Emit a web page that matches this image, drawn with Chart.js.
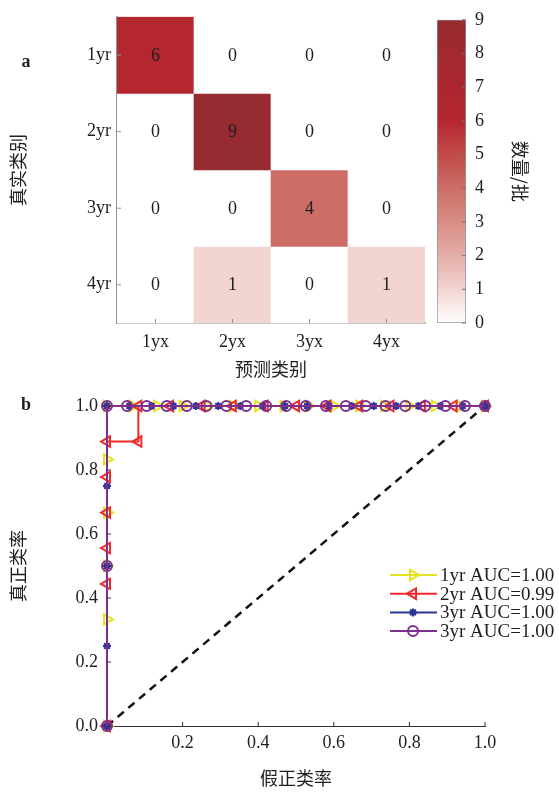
<!DOCTYPE html>
<html>
<head>
<meta charset="utf-8">
<script src="https://cdn.jsdelivr.net/npm/chart.js@4.4.1/dist/chart.umd.min.js"></script>
<style>
  html, body { margin: 0; padding: 0; background: #fff; width: 559px; height: 792px; overflow: hidden; }
  canvas { position: absolute; }
  #heat { left: 0; top: 0; }
  #cbar { left: 430px; top: 0; }
  #roc { left: 0; top: 385px; }
</style>
</head>
<body>
<canvas id="heat" width="430" height="385"></canvas>
<canvas id="cbar" width="129" height="385"></canvas>
<canvas id="roc" width="559" height="407"></canvas>
<script>
// ---- data: confusion matrix (a) ----
const predLabels = ["1yx", "2yx", "3yx", "4yx"];
const trueLabels = ["1yr", "2yr", "3yr", "4yr"];
const counts = [
  [6, 0, 0, 0],
  [0, 9, 0, 0],
  [0, 0, 4, 0],
  [0, 1, 0, 1],
];
const countTicks = [0, 1, 2, 3, 4, 5, 6, 7, 8, 9];

// ---- data: ROC curves (b) ----
const rocNames = ["1yr AUC=1.00", "2yr AUC=0.99", "3yr AUC=1.00", "3yr AUC=1.00"];
const fpr1 = [0, 0, 0, 0, 0, 0, 0.067, 0.133, 0.2, 0.267, 0.333, 0.4, 0.467, 0.533, 0.6, 0.667, 0.733, 0.8, 0.867, 0.933, 1];
const tpr1 = [0, 0.333, 0.5, 0.667, 0.833, 1, 1, 1, 1, 1, 1, 1, 1, 1, 1, 1, 1, 1, 1, 1, 1];
const fpr2 = [0, 0, 0, 0, 0, 0, 0.083, 0.083, 0.167, 0.25, 0.333, 0.417, 0.5, 0.583, 0.667, 0.75, 0.833, 0.917, 1];
const tpr2 = [0, 0.444, 0.556, 0.667, 0.778, 0.889, 0.889, 1, 1, 1, 1, 1, 1, 1, 1, 1, 1, 1, 1];
const fpr3 = [0, 0, 0, 0, 0, 0.059, 0.118, 0.176, 0.235, 0.294, 0.353, 0.412, 0.471, 0.529, 0.588, 0.647, 0.706, 0.765, 0.824, 0.882, 0.941, 1];
const tpr3 = [0, 0.25, 0.5, 0.75, 1, 1, 1, 1, 1, 1, 1, 1, 1, 1, 1, 1, 1, 1, 1, 1, 1, 1];
const fpr4 = [0, 0, 0, 0.053, 0.105, 0.158, 0.211, 0.263, 0.316, 0.368, 0.421, 0.474, 0.526, 0.579, 0.632, 0.684, 0.737, 0.789, 0.842, 0.895, 0.947, 1];
const tpr4 = [0, 0.5, 1, 1, 1, 1, 1, 1, 1, 1, 1, 1, 1, 1, 1, 1, 1, 1, 1, 1, 1, 1];
const chanceX = [0, 1];
const chanceY = [0, 1];
const fprTicks = [0.2, 0.4, 0.6, 0.8, 1.0];
const tprTicks = [0, 0.2, 0.4, 0.6, 0.8, 1.0];

// ---- styles ----
const SERIF = "'Liberation Serif', 'DejaVu Serif', serif";
const CJK = "'Noto Sans CJK SC', 'Noto Sans', sans-serif";
const TEXT = "#1e1e1e";
const AXIS_GRAY = "#8d949b";
// white -> dark red colour map, sampled off the colour bar at 0..9
const cmap = ["#ffffff", "#f2d4d1", "#e5ada8", "#d98d86", "#cc6e66", "#c14b49", "#b4272f", "#aa2630", "#a1292f", "#962b31"];

function hexToRgb(h) {
  return [1, 3, 5].map((i) => parseInt(h.slice(i, i + 2), 16));
}
function colorFor(v) {
  const max = cmap.length - 1;
  const t = Math.max(0, Math.min(max, v));
  const i = Math.min(Math.floor(t), max - 1);
  const f = t - i;
  const a = hexToRgb(cmap[i]), b = hexToRgb(cmap[i + 1]);
  const c = a.map((x, k) => Math.round(x + (b[k] - x) * f));
  return `rgb(${c[0]}, ${c[1]}, ${c[2]})`;
}

// small inward tick marks, the way the reference draws them
function inwardTicks(ctx, scale, len, color) {
  ctx.save();
  ctx.strokeStyle = color;
  ctx.lineWidth = 1;
  ctx.beginPath();
  scale.ticks.forEach((t, i) => {
    const p = scale.isHorizontal() ? scale.getPixelForTick(i) : scale.getPixelForValue(t.value);
    if (scale.isHorizontal()) {
      ctx.moveTo(p, scale.top);
      ctx.lineTo(p, scale.top - len);
    } else if (scale.position === "left") {
      ctx.moveTo(scale.right, p);
      ctx.lineTo(scale.right + len, p);
    } else {
      ctx.moveTo(scale.left, p);
      ctx.lineTo(scale.left - len, p);
    }
  });
  ctx.stroke();
  ctx.restore();
}

function panelLetter(ctx, letter, x, y) {
  ctx.save();
  ctx.font = `bold 18px ${SERIF}`;
  ctx.fillStyle = TEXT;
  ctx.textAlign = "center";
  ctx.textBaseline = "middle";
  ctx.fillText(letter, x, y);
  ctx.restore();
}

// ---- (a) confusion matrix ----
const cellTextPlugin = {
  id: "cellText",
  afterDatasetsDraw(chart) {
    const { ctx } = chart;
    ctx.save();
    ctx.font = `18px ${SERIF}`;
    ctx.fillStyle = TEXT;
    ctx.textAlign = "center";
    ctx.textBaseline = "middle";
    chart.data.datasets.forEach((ds, r) => {
      chart.getDatasetMeta(r).data.forEach((bar, c) => {
        ctx.fillText(String(counts[r][c]), bar.x, (bar.y + bar.base) / 2 + 1);
      });
    });
    ctx.restore();
    inwardTicks(ctx, chart.scales.x, 4, AXIS_GRAY);
    inwardTicks(ctx, chart.scales.y, 4, AXIS_GRAY);
    panelLetter(ctx, "a", 26, 62);
  },
};

new Chart(document.getElementById("heat"), {
  type: "bar",
  data: {
    labels: predLabels,
    datasets: trueLabels.map((name, r) => ({
      label: name,
      data: predLabels.map(() => 1),
      backgroundColor: counts[r].map(colorFor),
      borderWidth: 0,
      barPercentage: 1,
      categoryPercentage: 1,
    })),
  },
  options: {
    responsive: false,
    animation: false,
    events: [],
    layout: { padding: { top: 15, right: 5, left: 0, bottom: 0 } },
    plugins: { legend: { display: false }, tooltip: { enabled: false } },
    scales: {
      x: {
        stacked: true,
        grid: { display: false, drawTicks: false },
        border: { display: true, color: AXIS_GRAY, width: 1.5 },
        ticks: { color: TEXT, font: { family: SERIF, size: 18 }, padding: 8 },
        title: { display: true, text: "预测类别", color: TEXT, font: { family: CJK, size: 18 }, padding: { bottom: 5 } },
        afterFit(scale) { scale.height = 62; },
      },
      y: {
        stacked: true,
        reverse: true,
        min: 0,
        max: 4,
        grid: { display: false, drawTicks: false },
        border: { display: true, color: AXIS_GRAY, width: 1.5 },
        afterBuildTicks(scale) { scale.ticks = trueLabels.map((_, i) => ({ value: i + 0.5 })); },
        ticks: { color: TEXT, font: { family: SERIF, size: 18 }, padding: 6, callback: (v, i) => trueLabels[i] },
        title: { display: true, text: "真实类别", color: TEXT, font: { family: CJK, size: 18 }, padding: { top: 7 } },
        afterFit(scale) { scale.width = 117; },
      },
    },
  },
  plugins: [cellTextPlugin],
});

// ---- colour bar ----
const cbarTickPlugin = {
  id: "cbarTicks",
  afterDatasetsDraw(chart) {
    inwardTicks(chart.ctx, chart.scales.y, 4, "#6f757b");
  },
};

new Chart(document.getElementById("cbar"), {
  type: "bar",
  data: {
    labels: [""],
    datasets: [{
      data: [countTicks[countTicks.length - 1]],
      backgroundColor(c) {
        const area = c.chart.chartArea;
        if (!area) return cmap[cmap.length - 1];
        const g = c.chart.ctx.createLinearGradient(0, area.bottom, 0, area.top);
        cmap.forEach((col, i) => g.addColorStop(i / (cmap.length - 1), col));
        return g;
      },
      borderColor: AXIS_GRAY,
      borderWidth: 1,
      borderSkipped: false,
      barPercentage: 1,
      categoryPercentage: 1,
    }],
  },
  options: {
    responsive: false,
    animation: false,
    events: [],
    layout: { padding: { top: 15, left: 7, right: 10, bottom: 62 } },
    plugins: { legend: { display: false }, tooltip: { enabled: false } },
    scales: {
      x: { display: false },
      y: {
        position: "right",
        min: 0,
        max: 9,
        grid: { display: false, drawTicks: false },
        border: { display: false },
        afterBuildTicks(scale) { scale.ticks = countTicks.map((v) => ({ value: v })); },
        ticks: { color: TEXT, font: { family: SERIF, size: 18 }, padding: 9 },
        title: { display: true, text: "数量/批", color: TEXT, font: { family: CJK, size: 18 }, padding: { top: 18 } },
        afterFit(scale) { scale.width = 83; },
      },
    },
  },
  plugins: [cbarTickPlugin],
});

// ---- (b) ROC ----
function zip(xs, ys) {
  return xs.map((x, i) => ({ x, y: ys[i] }));
}

const rocLegendPlugin = {
  id: "rocLegend",
  afterDatasetsDraw(chart) {
    const { ctx } = chart;
    inwardTicks(ctx, chart.scales.x, 4, "#333");
    inwardTicks(ctx, chart.scales.y, 4, "#333");
    panelLetter(ctx, "b", 26, 20);
    chart.data.datasets.forEach((ds, i) => {
      if (!ds.label) return;
      const y = 190 + i * 18.7;
      ctx.save();
      ctx.strokeStyle = ds.borderColor;
      ctx.lineWidth = ds.borderWidth;
      ctx.beginPath();
      ctx.moveTo(390, y);
      ctx.lineTo(437, y);
      ctx.stroke();
      ctx.fillStyle = ds.pointBackgroundColor;
      ctx.lineWidth = ds.pointBorderWidth;
      Chart.helpers.drawPoint(ctx, {
        pointStyle: ds.pointStyle,
        rotation: ds.pointRotation || 0,
        radius: ds.pointRadius,
        borderWidth: ds.pointBorderWidth,
      }, 413, y);
      ctx.font = `19px ${SERIF}`;
      ctx.fillStyle = TEXT;
      ctx.textBaseline = "middle";
      ctx.textAlign = "left";
      ctx.fillText(ds.label, 440, y + 1);
      ctx.restore();
    });
  },
};

function rocSet(label, xs, ys, color, style, rotation, radius, order) {
  return {
    label,
    data: zip(xs, ys),
    showLine: true,
    borderColor: color,
    borderWidth: 2,
    pointStyle: style,
    pointRotation: rotation,
    pointRadius: radius,
    pointBorderColor: color,
    pointBackgroundColor: style === "star" ? color : "rgba(0,0,0,0)",
    pointBorderWidth: 2,
    clip: false,
    order,
  };
}

new Chart(document.getElementById("roc"), {
  type: "scatter",
  data: {
    datasets: [
      rocSet(rocNames[0], fpr1, tpr1, "#e4e41e", "triangle", 90, 6, 4),
      rocSet(rocNames[1], fpr2, tpr2, "#f22a2a", "triangle", -90, 6, 3),
      rocSet(rocNames[2], fpr3, tpr3, "#2b3499", "star", 0, 4, 2),
      rocSet(rocNames[3], fpr4, tpr4, "#7e2f8e", "circle", 0, 5, 1),
      {
        label: "",
        data: zip(chanceX, chanceY),
        showLine: true,
        borderColor: "#111",
        borderWidth: 2.5,
        borderDash: [8, 6],
        pointRadius: 0,
        clip: false,
        order: 5,
      },
    ],
  },
  options: {
    responsive: false,
    animation: false,
    events: [],
    layout: { padding: { top: 21, right: 74, left: 0, bottom: 0 } },
    plugins: { legend: { display: false }, tooltip: { enabled: false } },
    scales: {
      x: {
        type: "linear",
        min: 0,
        max: 1,
        grid: { display: false, drawTicks: false },
        border: { display: true, color: "#333", width: 1 },
        afterBuildTicks(scale) { scale.ticks = fprTicks.map((v) => ({ value: v })); },
        ticks: { color: TEXT, font: { family: SERIF, size: 18 }, padding: 6, callback: (v) => v.toFixed(1) },
        title: { display: true, text: "假正类率", color: TEXT, font: { family: CJK, size: 18 }, padding: { bottom: 3 } },
        afterFit(scale) { scale.height = 66; },
      },
      y: {
        type: "linear",
        min: 0,
        max: 1,
        grid: { display: false, drawTicks: false },
        border: { display: true, color: "#333", width: 1 },
        afterBuildTicks(scale) { scale.ticks = tprTicks.map((v) => ({ value: v })); },
        ticks: { color: TEXT, font: { family: SERIF, size: 18 }, padding: 9, callback: (v) => v.toFixed(1) },
        title: { display: true, text: "真正类率", color: TEXT, font: { family: CJK, size: 18 }, padding: { top: 7 } },
        afterFit(scale) { scale.width = 107; },
      },
    },
  },
  plugins: [rocLegendPlugin],
});
</script>
</body>
</html>
